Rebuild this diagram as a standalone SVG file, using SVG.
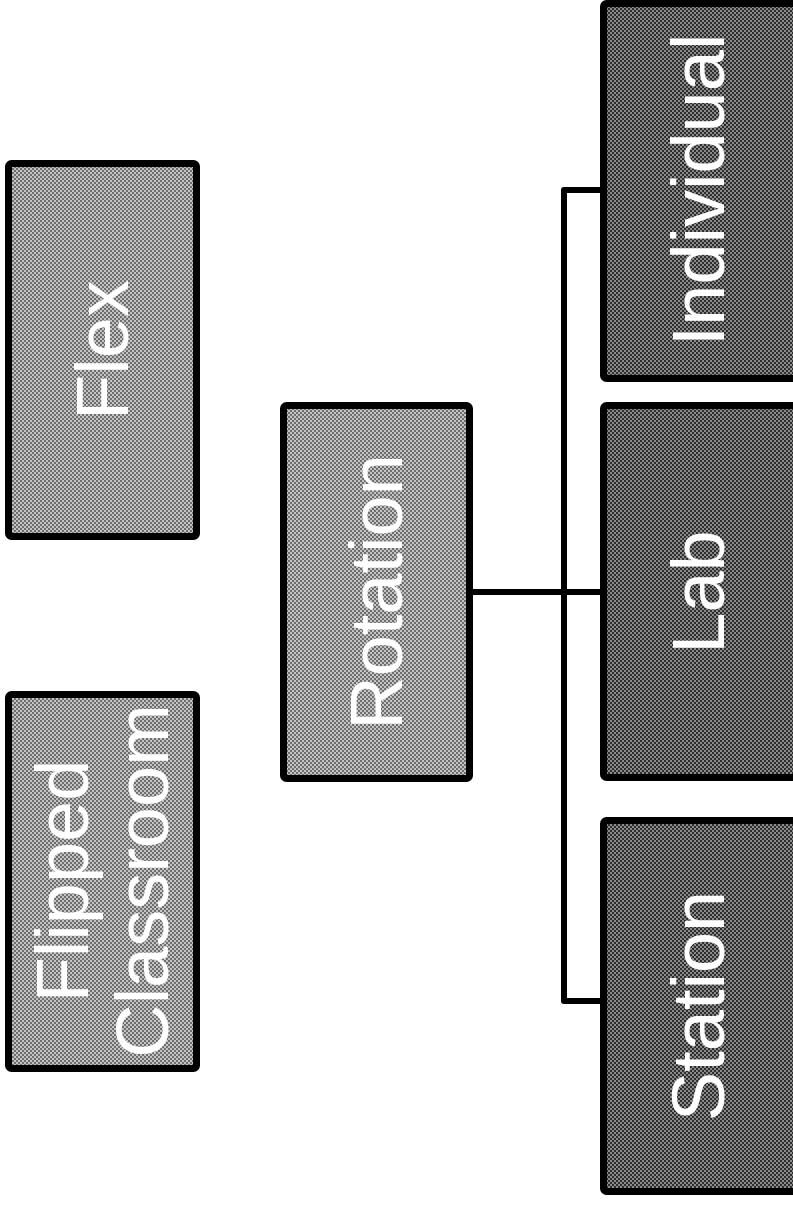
<svg xmlns="http://www.w3.org/2000/svg" width="793" height="1205" viewBox="0 0 793 1205">
  <defs>
    <!-- halftone screens used as box fills -->
    <pattern id="screenLight" width="4" height="4" patternUnits="userSpaceOnUse">
      <rect width="4" height="4" fill="#c4c4c4"/>
      <rect x="0" y="0" width="2" height="2" fill="#6e6e6e"/>
      <rect x="2" y="2" width="2" height="2" fill="#6e6e6e"/>
    </pattern>
    <pattern id="screenDark" width="4" height="4" patternUnits="userSpaceOnUse">
      <rect width="4" height="4" fill="#8a8a8a"/>
      <rect x="0" y="0" width="2" height="2" fill="#2e2e2e"/>
      <rect x="2" y="2" width="2" height="2" fill="#2e2e2e"/>
    </pattern>
  </defs>
  <style>
    .box { stroke: #000; stroke-width: 7; }
    .light { fill: url(#screenLight); }
    .dark { fill: url(#screenDark); }
    .label { fill: #fff; font-family: "Liberation Sans", Arial, sans-serif; font-size: 74px; text-anchor: middle; dominant-baseline: central; }
    .conn { fill: none; stroke: #000; stroke-width: 6; stroke-linejoin: round; }
  </style>
  <rect width="793" height="1205" fill="#fff"/>

  <g id="connectors">
    <line class="conn" x1="473" y1="592" x2="602" y2="592"/>
    <path class="conn" d="M 602 190 H 564 V 1001 H 602"/>
  </g>

  <g id="flex">
    <rect class="box light" x="8.5" y="163.5" width="188" height="373" rx="3"/>
    <text class="label" transform="translate(102,350) rotate(-90)">Flex</text>
  </g>

  <g id="flipped-classroom">
    <rect class="box light" x="8.5" y="694.5" width="188" height="374" rx="3"/>
    <text class="label" transform="translate(102,881) rotate(-90)"><tspan x="0" dy="-40">Flipped</tspan><tspan x="0" dy="80">Classroom</tspan></text>
  </g>

  <g id="rotation">
    <rect class="box light" x="283.5" y="405.5" width="186" height="373" rx="3"/>
    <text class="label" transform="translate(376,592) rotate(-90)">Rotation</text>
  </g>

  <g id="individual">
    <rect class="box dark" x="603.5" y="3.5" width="196" height="375" rx="3"/>
    <text class="label" transform="translate(698,190) rotate(-90)">Individual</text>
  </g>

  <g id="lab">
    <rect class="box dark" x="603.5" y="405.5" width="196" height="372" rx="3"/>
    <text class="label" transform="translate(698,592) rotate(-90)">Lab</text>
  </g>

  <g id="station">
    <rect class="box dark" x="603.5" y="820.5" width="196" height="371" rx="3"/>
    <text class="label" transform="translate(698,1006) rotate(-90)">Station</text>
  </g>
</svg>
